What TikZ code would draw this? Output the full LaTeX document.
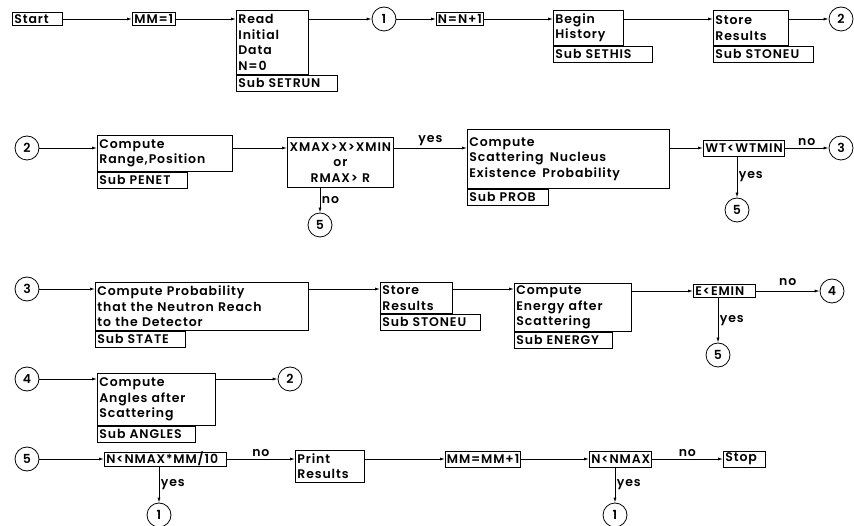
\documentclass[tikz,border=0pt]{standalone}
\usepackage{fontspec}
\IfFontExistsTF{Poppins SemiBold}{\setmainfont{Poppins SemiBold}[LetterSpace=7, WordSpace=1.6]}{\setmainfont{Poppins}[LetterSpace=7, WordSpace=1.6, FakeBold=1.2]}
\usetikzlibrary{arrows.meta,positioning}

\begin{document}
\begin{tikzpicture}[
  x=1pt, y=-1pt, >={Latex[length=5pt,width=3pt]}, line width=0.8pt,
  every node/.style={font=\fontsize{12.5}{15.5}\selectfont},
  box/.style={draw, anchor=north west, align=left, inner xsep=2pt, inner ysep=1pt},
  sub/.style={draw, anchor=north west, align=left, inner xsep=2pt, inner ysep=0pt, minimum height=16pt},
  cmd/.style={draw, anchor=west, align=left, inner xsep=2pt, inner ysep=0pt, minimum height=13pt},
  conn/.style={draw, circle, minimum size=24pt, inner sep=0pt},
  lab/.style={inner sep=1.5pt},
]
\useasboundingbox (0,0) rectangle (854,526);

% row 1
\node[cmd, text width=46pt] (start) at (12,19) {Start};
\node[cmd, text width=39pt] (mm1) at (132,19) {MM=1};
\node[box, text width=68pt, minimum height=64pt] (read) at (236,10)
  {Read\\Initial\\Data\\N=0};
\node[sub, text width=97pt] (setrun) at (read.south west) {Sub SETRUN};
\node[conn] (c1a) at (384,19) {1};
\node[cmd, inner xsep=1.5pt] (nn) at (436,19) {N=N+1};
\node[box, text width=66pt, minimum height=35pt] (begin) at (553,10)
  {Begin\\History};
\node[sub, text width=95pt] (sethis) at (begin.south west) {Sub SETHIS};
\node[box, text width=71pt, minimum height=35pt] (store) at (713,10)
  {Store\\Results};
\node[sub, text width=96pt] (stoneu) at (store.south west) {Sub STONEU};
\node[conn] (c2a) at (841,19) {2};

\draw[->] (start) -- (mm1);
\draw[->] (mm1) -- (mm1 -| read.west);
\draw[->] (mm1 -| read.east) -- (c1a);
\draw[->] (c1a) -- (nn);
\draw[->] (nn) -- (nn -| begin.west);
\draw[->] (nn -| begin.east) -- (nn -| store.west);
\draw[->] (nn -| store.east) -- (c2a);

% row 2
\node[conn] (c2b) at (27,148) {2};
\node[box, text width=131pt, minimum height=36pt] (range) at (97,135)
  {Compute\\Range,Position};
\node[sub, text width=86pt] (penet) at (range.south west) {Sub PENET};
\node[box, align=center, text width=102pt, minimum height=50pt] (test1) at (287,137)
  {XMAX>X>XMIN\\or\\RMAX> R};
\node[conn] (c5a) at (320,225) {5};
\node[box, text width=198pt, minimum height=59pt] (scat) at (467,129)
  {Compute\\Scattering\enspace Nucleus\\Existence\enspace Probability};
\node[sub, text width=77pt] (prob) at (scat.south west) {Sub PROB};
\node[cmd, text width=77pt, minimum height=16pt] (wt) at (703,148) {WT<WTMIN};
\node[conn] (c3a) at (841,148) {3};
\node[conn] (c5b) at (737,210) {5};

\draw[->] (c2b) -- (c2b -| range.west);
\draw[->] (c2b -| range.east) -- (c2b -| test1.west);
\draw[->] (c2b -| test1.east) -- node[lab, above] {yes} (c2b -| scat.west);
\draw[->] (c5a |- test1.south) -- node[lab, right] {no} (c5a);
\draw[->] (wt -| scat.east) -- (wt);
\draw[->] (wt) -- node[lab, above] {no} (c3a);
\draw[->] (c5b |- wt.south) -- node[lab, right] {yes} (c5b);

% row 3
\node[conn] (c3b) at (27,289) {3};
\node[box, text width=209pt, minimum height=48pt] (reach) at (95,282)
  {Compute Probability\\that the Neutron Reach\\to the Detector};
\node[sub, text width=86pt] (state) at (reach.south west) {Sub STATE};
\node[box, text width=68pt, minimum height=31pt] (store2) at (380,282)
  {Store\\Results};
\node[sub, text width=96pt] (stoneu2) at (store2.south west) {Sub STONEU};
\node[box, text width=113pt, minimum height=48pt] (energy) at (514,283)
  {Compute\\Energy after\\Scattering};
\node[sub, text width=94pt] (subenergy) at (energy.south west) {Sub ENERGY};
\node[cmd, text width=58pt] (emin) at (693,291) {E<EMIN};
\node[conn] (c4a) at (832,291) {4};
\node[conn] (c5c) at (718,355) {5};

\draw[->] (c3b) -- (c3b -| reach.west);
\draw[->] (c3b -| reach.east) -- (c3b -| store2.west);
\draw[->] (c3b -| store2.east) -- (c3b -| energy.west);
\draw[->] (emin -| energy.east) -- (emin);
\draw[->] (emin) -- node[lab, above, yshift=3pt] {no} (c4a);
\draw[->] (c5c |- emin.south) -- node[lab, right] {yes} (c5c);

% row 4
\node[conn] (c4b) at (27,379) {4};
\node[box, text width=114pt, minimum height=52pt] (angles) at (97,373)
  {Compute\\Angles after\\Scattering};
\node[sub, text width=94pt] (subangles) at (angles.south west) {Sub ANGLES};
\node[conn] (c2c) at (290,379) {2};

\draw[->] (c4b) -- (c4b -| angles.west);
\draw[->] (c4b -| angles.east) -- (c2c);

% row 5
\node[conn] (c5d) at (27,459) {5};
\node[cmd, text width=118pt] (test3) at (104,459) {N<NMAX*MM/10};
\node[conn] (c1b) at (159,515) {1};
\node[box, text width=65pt, minimum height=32pt] (print) at (295,450)
  {Print\\Results};
\node[cmd, inner xsep=1.5pt, minimum height=16pt] (mmp) at (445,459) {MM=MM+1};
\node[cmd, text width=58pt, minimum height=16pt] (test4) at (589,459) {N<NMAX};
\node[cmd, text width=38pt, minimum height=16pt] (stop) at (723,459) {Stop};
\node[conn] (c1c) at (615,515) {1};

\draw[->] (c5d) -- (test3);
\draw[->] (test3) -- node[lab, above] {no} (test3 -| print.west);
\draw[->] (c1b |- test3.south) -- node[lab, right] {yes} (c1b);
\draw[->] (test3 -| print.east) -- (mmp);
\draw[->] (mmp) -- (test4);
\draw[->] (test4) -- node[lab, above] {no} (stop);
\draw[->] (c1c |- test4.south) -- node[lab, right] {yes} (c1c);
\end{tikzpicture}
\end{document}
